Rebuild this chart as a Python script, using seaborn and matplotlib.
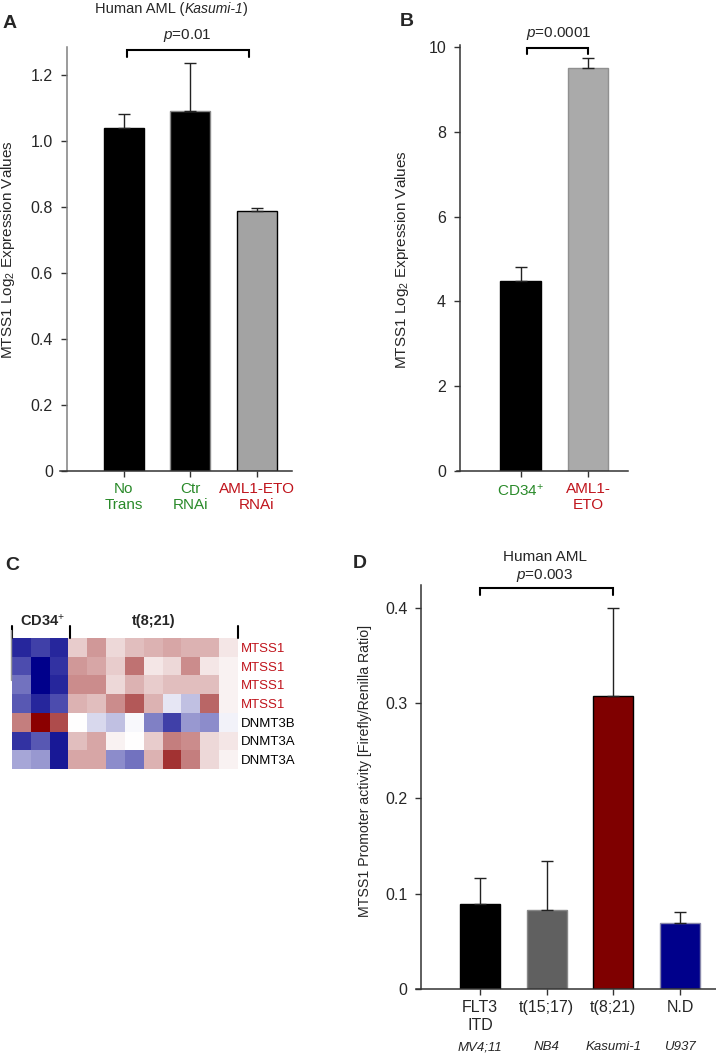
import numpy as np
import pandas as pd
import matplotlib
matplotlib.use('Agg')
import matplotlib.pyplot as plt
import seaborn as sns
from matplotlib.colors import LinearSegmentedColormap

# Panel A - MTSS1 in Kasumi-1 cells
a_groups = ['No\nTrans', 'Ctr\nRNAi', 'AML1-ETO\nRNAi']
a_means = [1.040, 1.093, 0.787]
a_err = [0.042, 0.145, 0.010]
a_yticks = [0, 0.2, 0.4, 0.6, 0.8, 1.0, 1.2]
a_yticklabels = ['0', '0.2', '0.4', '0.6', '0.8', '1.0', '1.2']

# Panel B - CD34+ vs AML1-ETO
b_groups = ['CD34$^{+}$', 'AML1-\nETO']
b_means = [4.48, 9.50]
b_err = [0.34, 0.24]
b_yticks = [0, 2, 4, 6, 8, 10]

# Panel C - heatmap (z-scores)
heat_rows = ['MTSS1', 'MTSS1', 'MTSS1', 'MTSS1', 'DNMT3B', 'DNMT3A', 'DNMT3A']
heat_cd34 = [
    [-0.85, -0.75, -0.85],
    [-0.70, -1.00, -0.80],
    [-0.55, -1.00, -0.85],
    [-0.65, -0.85, -0.70],
    [0.50, 1.00, 0.70],
    [-0.80, -0.65, -0.90],
    [-0.35, -0.40, -0.90],
]
heat_t821 = [
    [0.20, 0.40, 0.15, 0.25, 0.30, 0.35, 0.30, 0.30, 0.10],
    [0.40, 0.35, 0.20, 0.55, 0.10, 0.15, 0.45, 0.10, 0.05],
    [0.45, 0.45, 0.15, 0.30, 0.20, 0.25, 0.25, 0.25, 0.05],
    [0.30, 0.25, 0.45, 0.65, 0.30, -0.10, -0.25, 0.60, 0.05],
    [0.00, -0.15, -0.25, -0.03, -0.50, -0.75, -0.40, -0.45, -0.05],
    [0.25, 0.35, 0.05, 0.00, 0.20, 0.50, 0.45, 0.15, 0.10],
    [0.35, 0.35, -0.45, -0.55, 0.30, 0.80, 0.50, 0.15, 0.05],
]

# Panel D - promoter activity
d_groups = ['FLT3\nITD', 't(15;17)', 't(8;21)', 'N.D']
d_lines = ['MV4;11', 'NB4', 'Kasumi-1', 'U937']
d_means = [0.089, 0.083, 0.307, 0.069]
d_err = [0.028, 0.051, 0.093, 0.012]
d_yticks = [0, 0.1, 0.2, 0.3, 0.4]
d_yticklabels = ['0', '0.1', '0.2', '0.3', '0.4']

sns.set_style('ticks')
plt.rcParams['font.family'] = ['Liberation Sans', 'DejaVu Sans']
plt.rcParams['mathtext.fontset'] = 'custom'
plt.rcParams['mathtext.rm'] = 'Liberation Sans'
plt.rcParams['mathtext.it'] = 'Liberation Sans:italic'
plt.rcParams['mathtext.bf'] = 'Liberation Sans:bold'

W, H = 716, 1054
fig = plt.figure(figsize=(W / 100, H / 100), dpi=100)

GREEN = '#2a8a2a'
RED = '#c0141c'


def px_axes(left, right, top, bottom):
    return fig.add_axes([left / W, 1 - bottom / H, (right - left) / W, (bottom - top) / H])


def ftext(x, y, s, **kw):
    kw.setdefault('ha', 'center')
    kw.setdefault('va', 'center')
    return fig.text(x / W, 1 - y / H, s, **kw)


def bar_panel(ax, groups, means, err, colors, edges, xlim, ylim, spine_frac):
    sns.barplot(x=groups, y=means, hue=groups, palette=colors, legend=False,
                width=0.6, saturation=1, ax=ax, linewidth=1.0)
    for patch, ec in zip(ax.patches, edges):
        patch.set_edgecolor(ec)
    n = len(means)
    # only the upper half of the error bar is shown
    ax.errorbar(np.arange(n), means, yerr=[np.zeros(n), err], fmt='none',
                ecolor='#222222', elinewidth=1.0, capsize=4, capthick=1.0)
    ax.set_xlim(*xlim)
    ax.set_ylim(*ylim)
    sns.despine(ax=ax)
    ax.spines['left'].set_position(('axes', spine_frac))
    for s in ('left', 'bottom'):
        ax.spines[s].set_linewidth(1.1)
        ax.spines[s].set_color('#333333')
    ax.tick_params(axis='both', direction='out', length=4, width=1.0,
                   labelsize=11.5, color='#333333')
    ax.tick_params(axis='y', pad=6)
    ax.tick_params(axis='x', pad=4)
    ax.set_xlabel('')
    ax.set_ylabel('')


def bracket(ax, x0, x1, y, drop):
    ax.plot([x0, x0, x1, x1], [y - drop, y, y, y - drop], color='black',
            lw=1.5, clip_on=False, solid_joinstyle='miter')


# ---------- Panel A ----------
axA = px_axes(60, 292, 47, 470.7)
bar_panel(axA, a_groups, a_means, a_err,
          ['#000000', '#000000', '#a3a3a3'], ['#000000', '#888888', '#000000'],
          (-0.96, 2.53), (0, 1.286), 0.029)
axA.spines['left'].set_color('#808080')
axA.set_yticks(a_yticks)
axA.set_yticklabels(a_yticklabels)
for lab, c in zip(axA.get_xticklabels(), [GREEN, GREEN, RED]):
    lab.set_color(c)
    lab.set_fontsize(11)
bracket(axA, 0.045, 1.88, 1.277, 0.021)
ftext(187, 36, '$p$=0.01', fontsize=11)
t1 = ftext(95, 9, 'Human AML (', fontsize=10.5, ha='left')
t2 = axA.annotate('Kasumi-1', xy=(1, 0), xycoords=t1, ha='left', va='bottom',
                  fontsize=10, style='italic', annotation_clip=False)
axA.annotate(')', xy=(1, 0), xycoords=t2, ha='left', va='bottom',
             fontsize=10.5, annotation_clip=False)
ftext(3, 23, 'A', fontsize=14, fontweight='bold', ha='left')
ftext(8, 250, 'MTSS1 Log$_2$ Expression Values', fontsize=11, rotation=90)

# ---------- Panel B ----------
axB = px_axes(456.7, 628, 45, 471)
bar_panel(axB, b_groups, b_means, b_err,
          ['#000000', '#aaaaaa'], ['#000000', '#909090'],
          (-0.945, 1.59), (0, 10.05), 0.019)
axB.set_yticks(b_yticks)
for lab, c in zip(axB.get_xticklabels(), [GREEN, RED]):
    lab.set_color(c)
    lab.set_fontsize(11)
bracket(axB, 0.09, 1.0, 9.97, 0.14)
ftext(559, 33, '$p$=0.0001', fontsize=11)
ftext(400, 21, 'B', fontsize=14, fontweight='bold', ha='left')
ftext(402, 260, 'MTSS1 Log$_2$ Expression Values', fontsize=11, rotation=90)

# ---------- Panel C ----------
axC = px_axes(12, 238, 638, 769)
heat_df = pd.DataFrame(np.hstack([np.array(heat_cd34), np.array(heat_t821)]))
cmap = LinearSegmentedColormap.from_list('bwr_dark', ['#00008b', '#ffffff', '#8b0000'])
sns.heatmap(heat_df, cmap=cmap, vmin=-1, vmax=1, cbar=False, ax=axC,
            xticklabels=False, yticklabels=heat_rows)
axC.yaxis.tick_right()
axC.tick_params(axis='y', length=0, labelsize=9.5, pad=2, rotation=0)
for lab, name in zip(axC.get_yticklabels(), heat_rows):
    lab.set_color(RED if name == 'MTSS1' else 'black')
for x in (12, 70, 238):
    fig.add_artist(plt.Line2D([x / W, x / W], [1 - 626 / H, 1 - 638 / H],
                              color='black', lw=1.5))
fig.add_artist(plt.Line2D([10.5 / W, 10.5 / W], [1 - 630 / H, 1 - 680 / H],
                          color='#999999', lw=1.0))
ftext(43, 621, 'CD34$^{+}$', fontsize=10.5, fontweight='bold')
ftext(154, 621, 't(8;21)', fontsize=10.5, fontweight='bold')
ftext(5, 565, 'C', fontsize=14, fontweight='bold', ha='left')

# ---------- Panel D ----------
axD = px_axes(416, 716, 585, 989)
bar_panel(axD, d_groups, d_means, d_err,
          ['#000000', '#606060', '#7f0000', '#00008b'],
          ['#000000', '#888888', '#000000', '#8888aa'],
          (-0.96, 3.54), (0, 0.424), 0.018)
axD.set_yticks(d_yticks)
axD.set_yticklabels(d_yticklabels)
bracket(axD, 0.0, 2.0, 0.4208, 0.0074)
for i, name in enumerate(d_lines):
    axD.text(i, -0.1436, name, transform=axD.get_xaxis_transform(),
             ha='center', va='center', fontsize=9.5, style='italic')
ftext(545, 557, 'Human AML', fontsize=11)
ftext(545, 575, '$p$=0.003', fontsize=11)
ftext(353, 563, 'D', fontsize=14, fontweight='bold', ha='left')
ftext(365, 771, 'MTSS1 Promoter activity [Firefly/Renilla Ratio]', fontsize=10.2,
      rotation=90)

fig.savefig('out.png', dpi=100)
